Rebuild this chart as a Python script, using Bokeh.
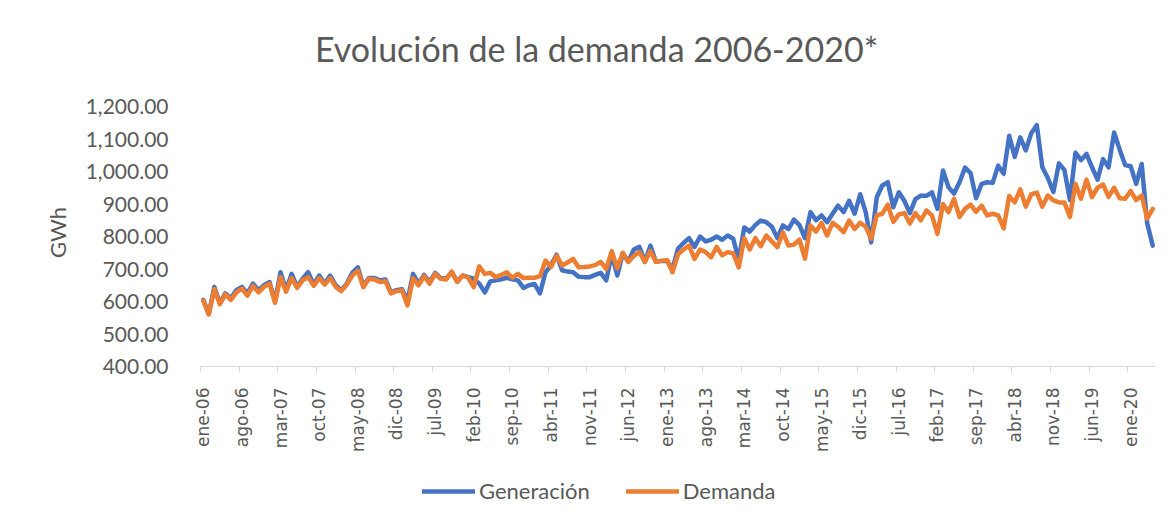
import math
from bokeh.plotting import figure
from bokeh.models import Range1d, FixedTicker, NumeralTickFormatter, Legend, LegendItem, Label
from bokeh.embed import file_html
from bokeh.resources import INLINE

# Monthly values, ene-06 ... may-20 (GWh)
generacion = [
    605, 562, 645, 595, 625, 610, 635, 645, 625, 655, 635, 650,      # 2006
    660, 600, 690, 635, 685, 645, 670, 690, 652, 680, 655, 680,      # 2007
    650, 635, 655, 688, 705, 648, 672, 672, 665, 668, 628, 635,      # 2008
    638, 603, 685, 655, 682, 660, 688, 672, 670, 690, 662, 680,      # 2009
    675, 670, 655, 628, 662, 665, 668, 673, 668, 665, 642, 650,      # 2010
    654, 625, 690, 712, 744, 696, 692, 690, 676, 675, 675, 682,      # 2011
    688, 665, 745, 680, 748, 722, 760, 768, 722, 772, 722, 725,      # 2012
    725, 700, 763, 780, 795, 768, 800, 785, 790, 800, 790, 803,      # 2013
    793, 728, 828, 815, 835, 849, 844, 830, 795, 834, 823, 852,      # 2014
    835, 795, 875, 850, 865, 844, 870, 895, 875, 910, 870, 930,      # 2015
    875, 782, 920, 957, 967, 890, 936, 910, 872, 915, 926, 925,      # 2016
    936, 885, 1003, 952, 932, 967, 1012, 995, 918, 962, 967, 965,    # 2017
    1018, 993, 1110, 1045, 1105, 1065, 1118, 1143, 1013, 980, 937, 1025,  # 2018
    1005, 912, 1058, 1035, 1054, 1013, 975, 1038, 1013, 1120, 1068, 1020, # 2019
    1016, 962, 1023, 840, 772,                                       # 2020
]
demanda = [
    603, 560, 638, 592, 622, 605, 628, 640, 618, 648, 628, 645,      # 2006
    655, 596, 675, 630, 672, 642, 665, 675, 648, 672, 652, 672,      # 2007
    645, 632, 652, 680, 695, 644, 670, 668, 660, 662, 625, 632,      # 2008
    634, 588, 672, 650, 678, 655, 685, 670, 668, 692, 660, 680,      # 2009
    673, 644, 708, 685, 688, 675, 682, 690, 673, 685, 672, 673,      # 2010
    673, 678, 726, 706, 741, 711, 720, 731, 705, 706, 708, 712,      # 2011
    722, 700, 755, 702, 750, 722, 740, 752, 722, 755, 722, 725,      # 2012
    728, 690, 745, 760, 772, 731, 760, 752, 736, 768, 742, 752,      # 2013
    748, 705, 795, 760, 795, 770, 803, 785, 767, 813, 772, 775,      # 2014
    790, 732, 834, 815, 842, 803, 842, 830, 813, 849, 823, 842,      # 2015
    830, 793, 865, 870, 898, 845, 868, 872, 840, 872, 850, 880,      # 2016
    865, 808, 900, 875, 916, 860, 885, 898, 876, 895, 865, 870,      # 2017
    865, 825, 925, 905, 945, 892, 930, 935, 892, 926, 911, 905,      # 2018
    905, 860, 962, 916, 975, 921, 950, 960, 922, 950, 918, 916,      # 2019
    940, 912, 926, 855, 885,                                         # 2020
]
tick_labels = ["ene-06", "ago-06", "mar-07", "oct-07", "may-08", "dic-08", "jul-09",
               "feb-10", "sep-10", "abr-11", "nov-11", "jun-12", "ene-13", "ago-13",
               "mar-14", "oct-14", "may-15", "dic-15", "jul-16", "feb-17", "sep-17",
               "abr-18", "nov-18", "jun-19", "ene-20"]
y_ticks = [400, 500, 600, 700, 800, 900, 1000, 1100, 1200]
tick_step = 7

n = len(demanda)
x = list(range(n))
tick_idx = [k * tick_step for k in range(len(tick_labels))]

GRAY = "#595959"
AXIS = "#d9d9d9"

# Canvas geometry (pixels); the frame covers the whole canvas so that the
# title, axis title and legend can be placed freely.
W, H = 1159, 513
PL, PR, PT, PB = 200, 4, 106, 147          # plot-area insets
x_lo, x_hi = -0.5, n - 0.5
y_lo, y_hi = y_ticks[0], y_ticks[-1]
ux = (x_hi - x_lo) / (W - PL - PR)
uy = (y_hi - y_lo) / (H - PT - PB)

p = figure(frame_width=W, frame_height=H,
           min_border_left=0, min_border_right=0, min_border_top=0, min_border_bottom=0,
           x_range=Range1d(x_lo - PL * ux, x_hi + PR * ux),
           y_range=Range1d(y_lo - PB * uy, y_hi + PT * uy),
           output_backend="svg", toolbar_location=None,
           background_fill_color="white", border_fill_color="white")
p.outline_line_color = None
p.xgrid.visible = False
p.ygrid.visible = False

# y axis
p.yaxis.fixed_location = x_lo
p.yaxis.bounds = (y_lo, y_hi)
p.yaxis.ticker = FixedTicker(ticks=y_ticks)
p.yaxis.formatter = NumeralTickFormatter(format="0,0.00")
p.yaxis.axis_line_color = None
p.yaxis.major_tick_line_color = None
p.yaxis.minor_tick_line_color = None
p.yaxis.major_label_standoff = 26
p.yaxis.major_label_text_font = "Lato"
p.yaxis.major_label_text_font_size = "21px"
p.yaxis.major_label_text_color = GRAY

# x axis
p.xaxis.fixed_location = y_lo
p.xaxis.bounds = (x_lo, x_hi)
p.xaxis.ticker = FixedTicker(ticks=tick_idx, minor_ticks=[t - 0.5 for t in tick_idx])
p.xaxis.major_label_overrides = {t: lab for t, lab in zip(tick_idx, tick_labels)}
p.xaxis.major_tick_out = 0
p.xaxis.major_tick_in = 0
p.xaxis.minor_tick_out = 6
p.xaxis.minor_tick_in = 0
p.xaxis.minor_tick_line_color = AXIS
p.xaxis.axis_line_color = AXIS
p.xaxis.major_label_orientation = math.pi / 2
p.xaxis.major_label_standoff = 15
p.xaxis.major_label_text_font = "DejaVu Sans"
p.xaxis.major_label_text_font_size = "17px"
p.xaxis.major_label_text_color = GRAY

r_gen = p.line(x, generacion, line_color="#4472C4", line_width=4.5,
               line_join="round", line_cap="round")
r_dem = p.line(x, demanda, line_color="#ED7D31", line_width=4.5,
               line_join="round", line_cap="round")

title = Label(x=596, y=H - 48, x_units="screen", y_units="screen",
              text="Evolución de la demanda 2006-2020*",
              text_align="center", text_baseline="alphabetic",
              text_font="Lato", text_font_size="34px", text_color=GRAY)
p.add_layout(title)

ytitle = Label(x=57, y=H - 232, x_units="screen", y_units="screen",
               text="GWh", angle=math.pi / 2,
               text_align="center", text_baseline="middle",
               text_font="Lato", text_font_size="22px", text_color=GRAY)
p.add_layout(ytitle)

legend = Legend(items=[LegendItem(label="Generación", renderers=[r_gen]),
                       LegendItem(label="Demanda", renderers=[r_dem])],
                orientation="horizontal", location=(422, H - 504),
                glyph_width=53, glyph_height=20, label_standoff=4, spacing=36,
                padding=0, margin=0, border_line_color=None,
                background_fill_alpha=0, label_text_font="Lato",
                label_text_font_size="22px", label_text_color=GRAY)
p.add_layout(legend)

open("out.html", "w").write(file_html(p, INLINE))
